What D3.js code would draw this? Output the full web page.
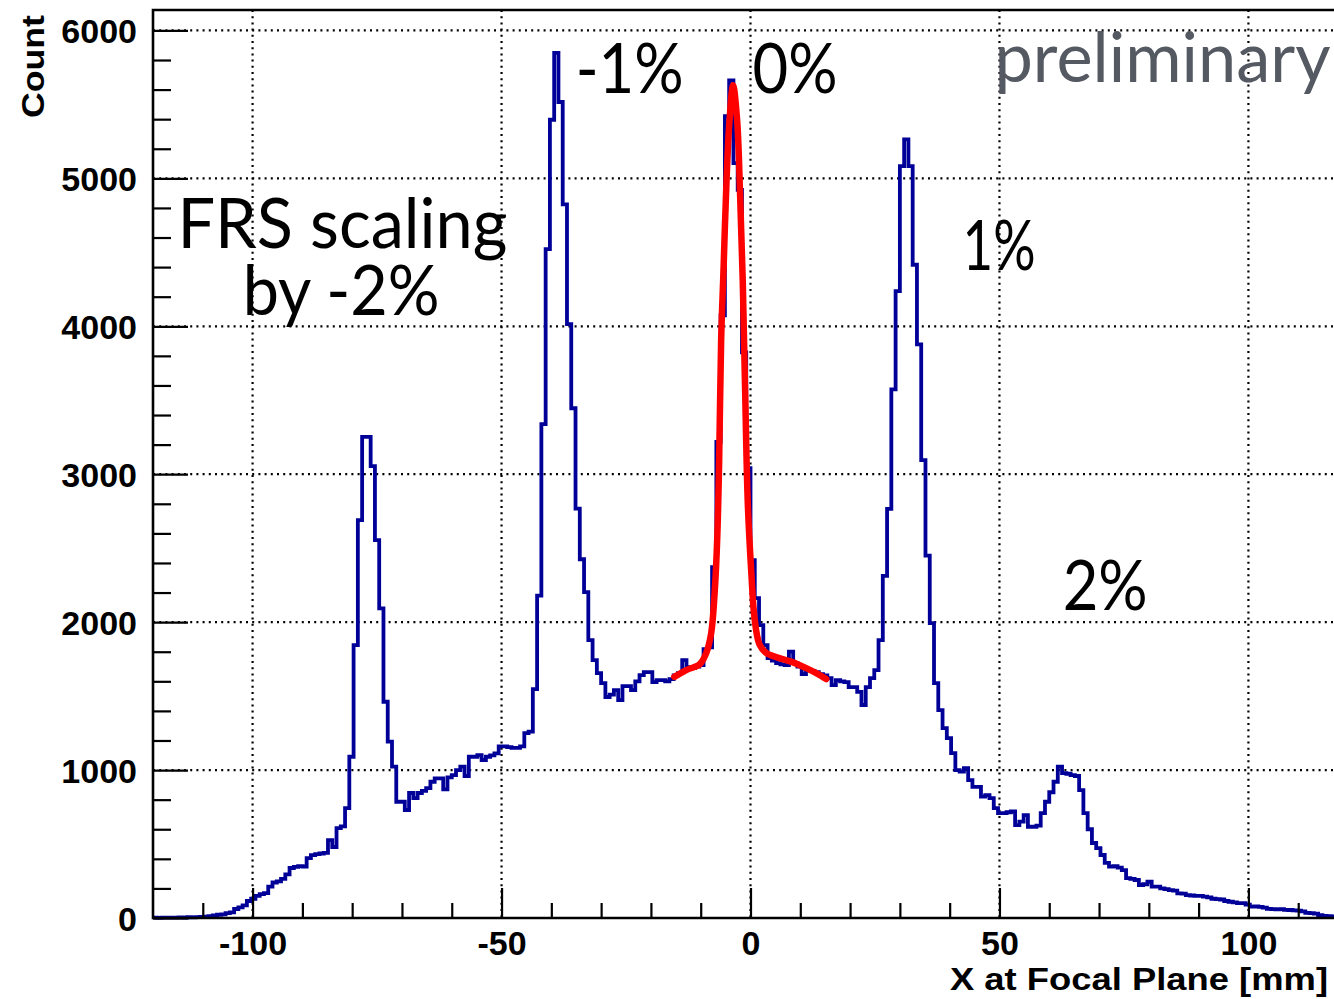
<!DOCTYPE html>
<html>
<head>
<meta charset="utf-8">
<script src="https://cdn.jsdelivr.net/npm/d3@7"></script>
<style>
  html, body { margin: 0; padding: 0; background: #fff; }
  svg { display: block; }
</style>
</head>
<body>
<svg id="chart"></svg>
<script>
const WIDTH = 1334;
const HEIGHT = 999;

const HIST_COLOR = '#000099';
const FIT_COLOR = '#ff0000';
const LABEL_FONT = '"Liberation Sans", Arial, Helvetica, sans-serif';
const NOTE_FONT = 'Lato, "Open Sans", sans-serif';

// histogram: X at focal plane, equal bins from binLow to binHigh
const binLow = -120;
const binHigh = 120;
const counts = [
  2, 1, 2, 3, 2, 3, 4, 3, 5, 4, 6, 7, 9, 12,
  18, 22, 25, 33, 38, 61, 72,
  85, 115, 130, 150, 162, 168, 212, 240, 248, 265,
  295, 338, 345, 350, 348, 405, 425, 432, 436, 440,
  527, 480, 608, 620, 743, 1090, 1845, 2689, 3252, 3252,
  3054, 2554, 2093, 1462, 1192, 1023, 786, 786, 730, 845,
  811, 845, 860, 878, 921, 944, 944, 870, 950, 966,
  1000, 1023, 960, 1090, 1090, 1101, 1068, 1090, 1100, 1113,
  1160, 1160, 1155, 1150, 1150, 1160, 1250, 1260, 1547, 2179,
  3339, 4522, 5396, 5848, 5516, 4824, 4014, 3446, 2767, 2425,
  2203, 1878, 1743, 1655, 1588, 1494, 1510, 1540, 1473, 1568,
  1568, 1540, 1600, 1642, 1662, 1662, 1595, 1608, 1608, 1600,
  1615, 1640, 1655, 1743, 1696, 1690, 1700, 1709, 1818, 1830,
  2372, 3218, 4074, 5420, 5662, 5103, 4922, 3824, 3041, 2419,
  2162, 1980, 1845, 1757, 1740, 1723, 1715, 1709, 1800, 1723,
  1700, 1649, 1676, 1670, 1662, 1649, 1640, 1622, 1574, 1608,
  1600, 1595, 1561, 1561, 1529, 1440, 1561, 1622, 1676, 1878,
  2313, 2765, 3574, 4238, 5083, 5264, 5083, 4416, 3878, 3095,
  2449, 1993, 1588, 1405, 1284, 1216, 1115, 1000, 989, 1013,
  932, 887, 887, 820, 831, 811, 743, 709, 709, 715,
  720, 628, 651, 696, 617, 617, 625, 709, 786, 850,
  921, 1023, 980, 975, 966, 960, 865, 709, 600, 507,
  473, 426, 372, 347, 350, 340, 324, 270, 265, 257,
  223, 228, 245, 212, 212, 200, 195, 189, 185, 167,
  165, 155, 152, 150, 149, 145, 140, 130, 128, 125,
  115, 110, 105, 100, 100, 90, 77, 78, 75, 70,
  62, 60, 58, 60, 55, 54, 52, 50, 45, 35,
  33, 30, 20, 15, 12, 10, 8, 6, 5
];

// fitted curve around the 0% peak
const fitX = [-15.3, -12.9, -10.2, -8.9, -7.9, -7.2, -6.7, -6.3, -5.9, -5.4, -4.8, -4.2, -3.5,
              -2.7, -2.1, -1.55, -1.1, -0.54, 0.14, 0.8, 1.8, 3.2, 5.8, 8.4, 11.2, 13.2, 15.2];
const fitY = [1630, 1676, 1715, 1790, 1925, 2200, 2550, 3080, 3900, 4400, 5000, 5400, 5630,
              5400, 4900, 4300, 3600, 2800, 2350, 2030, 1850, 1790, 1757, 1730, 1689, 1655, 1615];

const xMajor = [-100, -50, 0, 50, 100];
const xMinor = d3.range(-110, 121, 10).filter(v => v % 50 !== 0);
const yMajor = [0, 1000, 2000, 3000, 4000, 5000, 6000];
const yMinor = d3.range(200, 6001, 200).filter(v => v % 1000 !== 0);

const xTitle = 'X at Focal Plane [mm]';
const yTitle = 'Count';

const FRAME = {left: 153, top: 10, bottom: 918, right: 1348};

var svg = d3.select('#chart')
    .attr('width', WIDTH)
    .attr('height', HEIGHT);

svg.append('rect')
    .attr('width', WIDTH)
    .attr('height', HEIGHT)
    .attr('fill', '#fff');

var x = d3.scaleLinear()
    .domain([binLow, binHigh])
    .range([FRAME.left, FRAME.right]);

var y = d3.scaleLinear()
    .domain([0, 6138])
    .range([FRAME.bottom, FRAME.top]);

/* dotted grid */
var grid = svg.append('g')
    .attr('stroke', '#000')
    .attr('stroke-width', 2.2)
    .attr('stroke-dasharray', '2 4.2');

grid.selectAll('.gx')
    .data(xMajor)
    .join('line')
    .attr('x1', d => x(d)).attr('x2', d => x(d))
    .attr('y1', FRAME.top).attr('y2', FRAME.bottom);

grid.selectAll('.gy')
    .data(yMajor.filter(d => d > 0))
    .join('line')
    .attr('x1', FRAME.left).attr('x2', FRAME.right)
    .attr('y1', d => y(d)).attr('y2', d => y(d));

/* histogram outline */
var binWidth = (binHigh - binLow) / counts.length;
var steps = counts.map((c, i) => [binLow + i * binWidth, c]);
steps.push([binHigh, counts[counts.length - 1]]);

svg.append('path')
    .datum(steps)
    .attr('fill', 'none')
    .attr('stroke', HIST_COLOR)
    .attr('stroke-width', 3.8)
    .attr('d', d3.line()
        .curve(d3.curveStepAfter)
        .x(d => x(d[0]))
        .y(d => y(d[1])));

/* fit */
svg.append('path')
    .datum(fitX.map((v, i) => [v, fitY[i]]))
    .attr('fill', 'none')
    .attr('stroke', FIT_COLOR)
    .attr('stroke-width', 6.5)
    .attr('stroke-linecap', 'round')
    .attr('stroke-linejoin', 'round')
    .attr('d', d3.line()
        .curve(d3.curveCatmullRom.alpha(0.5))
        .x(d => x(d[0]))
        .y(d => y(d[1])));

/* axes */
function styleAxis(g) {
    g.select('.domain').remove();
    g.selectAll('line').attr('stroke', '#000').attr('stroke-width', 2.2);
    g.selectAll('text')
        .attr('fill', '#000')
        .style('font-family', LABEL_FONT)
        .style('font-weight', 'bold')
        .style('font-size', '34px');
}

// ROOT prints a plain hyphen for negative labels
const plain = d => String(d);

svg.append('g')
    .attr('transform', 'translate(' + FRAME.left + ',0)')
    .call(d3.axisLeft(y).tickValues(yMinor).tickSize(-18).tickFormat(''))
    .call(styleAxis);

svg.append('g')
    .attr('transform', 'translate(' + FRAME.left + ',0)')
    .call(d3.axisLeft(y).tickValues(yMajor).tickSize(-35).tickPadding(16).tickFormat(plain))
    .call(styleAxis)
    .selectAll('text').attr('dy', '0.36em');

svg.append('g')
    .attr('transform', 'translate(0,' + FRAME.bottom + ')')
    .call(d3.axisBottom(x).tickValues(xMinor).tickSize(-15).tickFormat(''))
    .call(styleAxis);

svg.append('g')
    .attr('transform', 'translate(0,' + FRAME.bottom + ')')
    .call(d3.axisBottom(x).tickValues(xMajor).tickSize(-30).tickPadding(13).tickFormat(plain))
    .call(styleAxis);

/* frame */
svg.append('path')
    .attr('fill', 'none')
    .attr('stroke', '#000')
    .attr('stroke-width', 2.6)
    .attr('d', 'M' + FRAME.right + ',' + FRAME.top + 'H' + FRAME.left + 'V' + FRAME.bottom + 'H' + FRAME.right + 'Z');

/* titles */
svg.append('text')
    .attr('x', 1328)
    .attr('y', 990)
    .attr('text-anchor', 'end')
    .style('font-family', LABEL_FONT)
    .style('font-weight', 'bold')
    .style('font-size', '32px')
    .attr('textLength', 378)
    .attr('lengthAdjust', 'spacingAndGlyphs')
    .text(xTitle);

svg.append('text')
    .attr('transform', 'translate(44,15) rotate(-90)')
    .attr('text-anchor', 'end')
    .style('font-family', LABEL_FONT)
    .style('font-weight', 'bold')
    .style('font-size', '32px')
    .attr('textLength', 103)
    .attr('lengthAdjust', 'spacingAndGlyphs')
    .text(yTitle);

/* annotations */
function note(text, xv, yv, len, color) {
    svg.append('text')
        .attr('x', x(xv))
        .attr('y', y(yv))
        .style('font-family', NOTE_FONT)
        .style('font-size', '70px')
        .attr('fill', color || '#000')
        .attr('textLength', len)
        .attr('lengthAdjust', 'spacingAndGlyphs')
        .text(text);
}

note('FRS scaling', -115.1, 4527, 330);
note('by -2%', -102.0, 4074, 197);
note('-1%', -35.1, 5574, 108);
note('0%', 0.4, 5574, 85);
note('1%', 42.6, 4378, 73);
note('2%', 62.7, 2081, 85);
note('preliminary', 49.0, 5649, 336, '#545962');
</script>
</body>
</html>
